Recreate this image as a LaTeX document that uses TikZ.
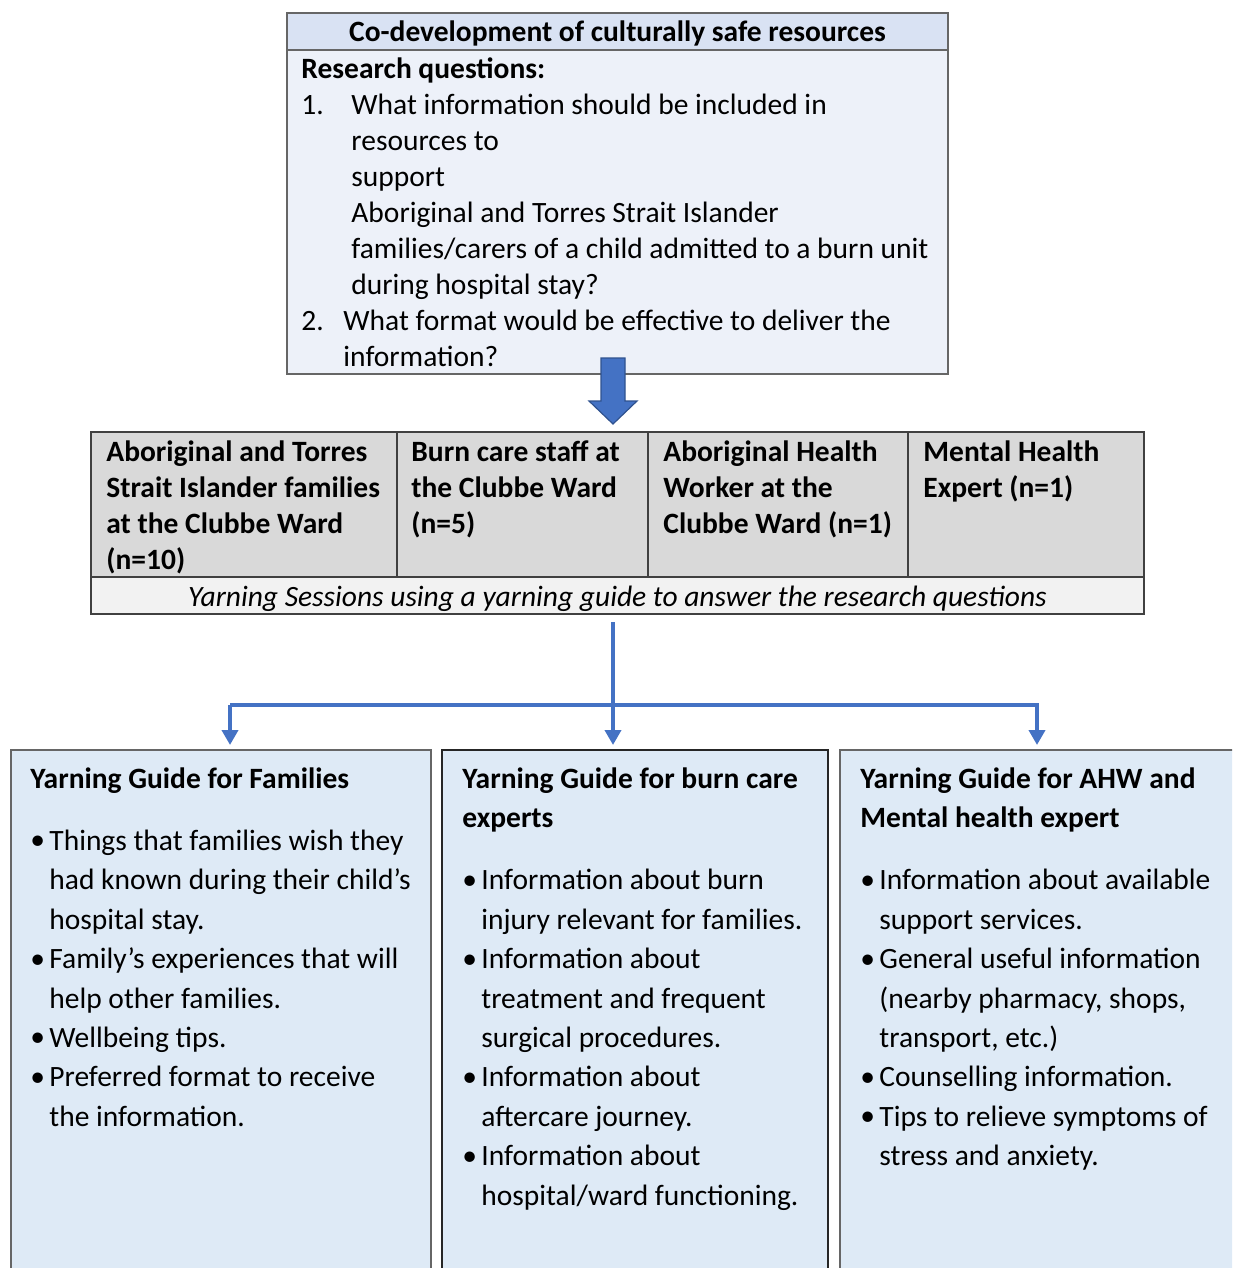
\documentclass[tikz,border=0pt]{standalone}
\usepackage{fontspec}
\setmainfont{Carlito}
\usetikzlibrary{positioning,arrows.meta}

\definecolor{headblue}{HTML}{D9E2F3}
\definecolor{bodyblue}{HTML}{EDF1F9}
\definecolor{guideblue}{HTML}{DEEAF6}
\definecolor{cellgray}{HTML}{D9D9D9}
\definecolor{rowgray}{HTML}{F2F2F2}
\definecolor{linkblue}{HTML}{4472C4}
\definecolor{arrowedge}{HTML}{2F528F}

\tikzset{
  box/.style={draw=black!60, line width=0.7pt, anchor=north west, inner sep=0pt, outer sep=0pt},
  cell/.style={box, draw=black!75, fill=cellgray, minimum height=72.5pt},
  guide/.style={box, fill=guideblue, minimum height=280pt},
  txt/.style={anchor=north west, inner sep=0pt, align=left, font=\fontsize{14.75}{18}\selectfont},
  celltxt/.style={txt, font=\fontsize{14.75}{18}\selectfont\bfseries},
  guidetxt/.style={txt, font=\fontsize{14.75}{19.7}\selectfont},
  link/.style={draw=linkblue, line width=2pt, line join=miter},
  tip/.style={-{Triangle[width=8pt,length=7.5pt]}}
}
\newcommand{\bul}{\makebox[9.5pt][l]{\raisebox{0.3pt}{•}}}
\newcommand{\cont}{\hspace*{9.5pt}}

\begin{document}
\begin{tikzpicture}[x=0.5pt,y=-0.5pt]
\useasboundingbox (0,0) rectangle (1232,1268);
\clip (0,0) rectangle (1232,1268);

\node[box, fill=headblue, minimum width=330.5pt, minimum height=18.5pt] (head) at (287,13) {};
\node[font=\fontsize{14.75}{18}\selectfont\bfseries, yshift=-1pt] at (head.center) {Co-development of culturally safe resources};
\node[box, fill=bodyblue, minimum width=330.5pt, minimum height=162pt] (questions) at (287,50) {};
\node[txt, below right=3.5pt and 7pt of questions.north west] (qtext) {%
\textbf{Research questions:}\\
\makebox[25pt][l]{1.}What information should be included in\\
\hspace*{25pt}resources to\\
\hspace*{25pt}support\\
\hspace*{25pt}Aboriginal and Torres Strait Islander\\
\hspace*{25pt}families/carers of a child admitted to a burn unit\\
\hspace*{25pt}during hospital stay?\\
\makebox[21pt][l]{2.}What format would be effective to deliver the\\
\hspace*{21pt}information?};

\draw[fill=linkblue, draw=arrowedge, line width=0.6pt]
  (601,358) -- (625,358) -- (625,401) -- (637,401) -- (613,424) -- (589,401) -- (601,401) -- cycle;

\node[cell, minimum width=153pt] (families) at (91,432) {};
\node[cell, minimum width=125.5pt] (staff) at (families.north east) {};
\node[cell, minimum width=130pt] (ahw) at (staff.north east) {};
\node[cell, minimum width=118pt] (mental) at (ahw.north east) {};
\node[box, draw=black!75, fill=rowgray, minimum width=526.5pt, minimum height=18.5pt] (yarn) at (families.south west) {};
\node[font=\fontsize{14.75}{18}\selectfont\itshape, yshift=-1.5pt] at (yarn.center) {Yarning Sessions using a yarning guide to answer the research questions};

\node[celltxt, below right=4pt and 7.5pt of families.north west] {Aboriginal and Torres\\Strait Islander families\\at the Clubbe Ward\\(n=10)};
\node[celltxt, below right=4pt and 7pt of staff.north west] {Burn care staff at\\the Clubbe Ward\\(n=5)};
\node[celltxt, below right=4pt and 7.5pt of ahw.north west] {Aboriginal Health\\Worker at the\\Clubbe Ward (n=1)};
\node[celltxt, below right=4pt and 7.5pt of mental.north west] {Mental Health\\Expert (n=1)};

\node[guide, minimum width=210pt] (famguide) at (11,750) {};
\node[guide, draw=black!85, minimum width=193pt] (burnguide) at (442,750) {};
\node[guide, minimum width=205pt] (ahwguide) at (840,750) {};

\node[guidetxt, below right=8.5pt and 9.5pt of famguide.north west] {%
\textbf{Yarning Guide for Families}\\[11.5pt]
\bul Things that families wish they\\
\cont had known during their child’s\\
\cont hospital stay.\\
\bul Family’s experiences that will\\
\cont help other families.\\
\bul Wellbeing tips.\\
\bul Preferred format to receive\\
\cont the information.};
\node[guidetxt, below right=8.5pt and 10pt of burnguide.north west] {%
\textbf{Yarning Guide for burn care}\\
\textbf{experts}\\[11.5pt]
\bul Information about burn\\
\cont injury relevant for families.\\
\bul Information about\\
\cont treatment and frequent\\
\cont surgical procedures.\\
\bul Information about\\
\cont aftercare journey.\\
\bul Information about\\
\cont hospital/ward functioning.};
\node[guidetxt, below right=8.5pt and 10pt of ahwguide.north west] {%
\textbf{Yarning Guide for AHW and}\\
\textbf{Mental health expert}\\[11.5pt]
\bul Information about available\\
\cont support services.\\
\bul General useful information\\
\cont (nearby pharmacy, shops,\\
\cont transport, etc.)\\
\bul Counselling information.\\
\bul Tips to relieve symptoms of\\
\cont stress and anxiety.};

\coordinate (split) at (613,705);
\coordinate (leftdrop) at (230,705);
\coordinate (rightdrop) at (1037,705);
\draw[link, tip] ([yshift=-4pt]split |- yarn.south) -- ([yshift=2.5pt]split |- burnguide.north);
\draw[link, tip] (leftdrop) -- ([yshift=2.5pt]leftdrop |- famguide.north);
\draw[link, tip] (leftdrop) -- (rightdrop) -- ([yshift=2.5pt]rightdrop |- ahwguide.north);
\end{tikzpicture}
\end{document}
